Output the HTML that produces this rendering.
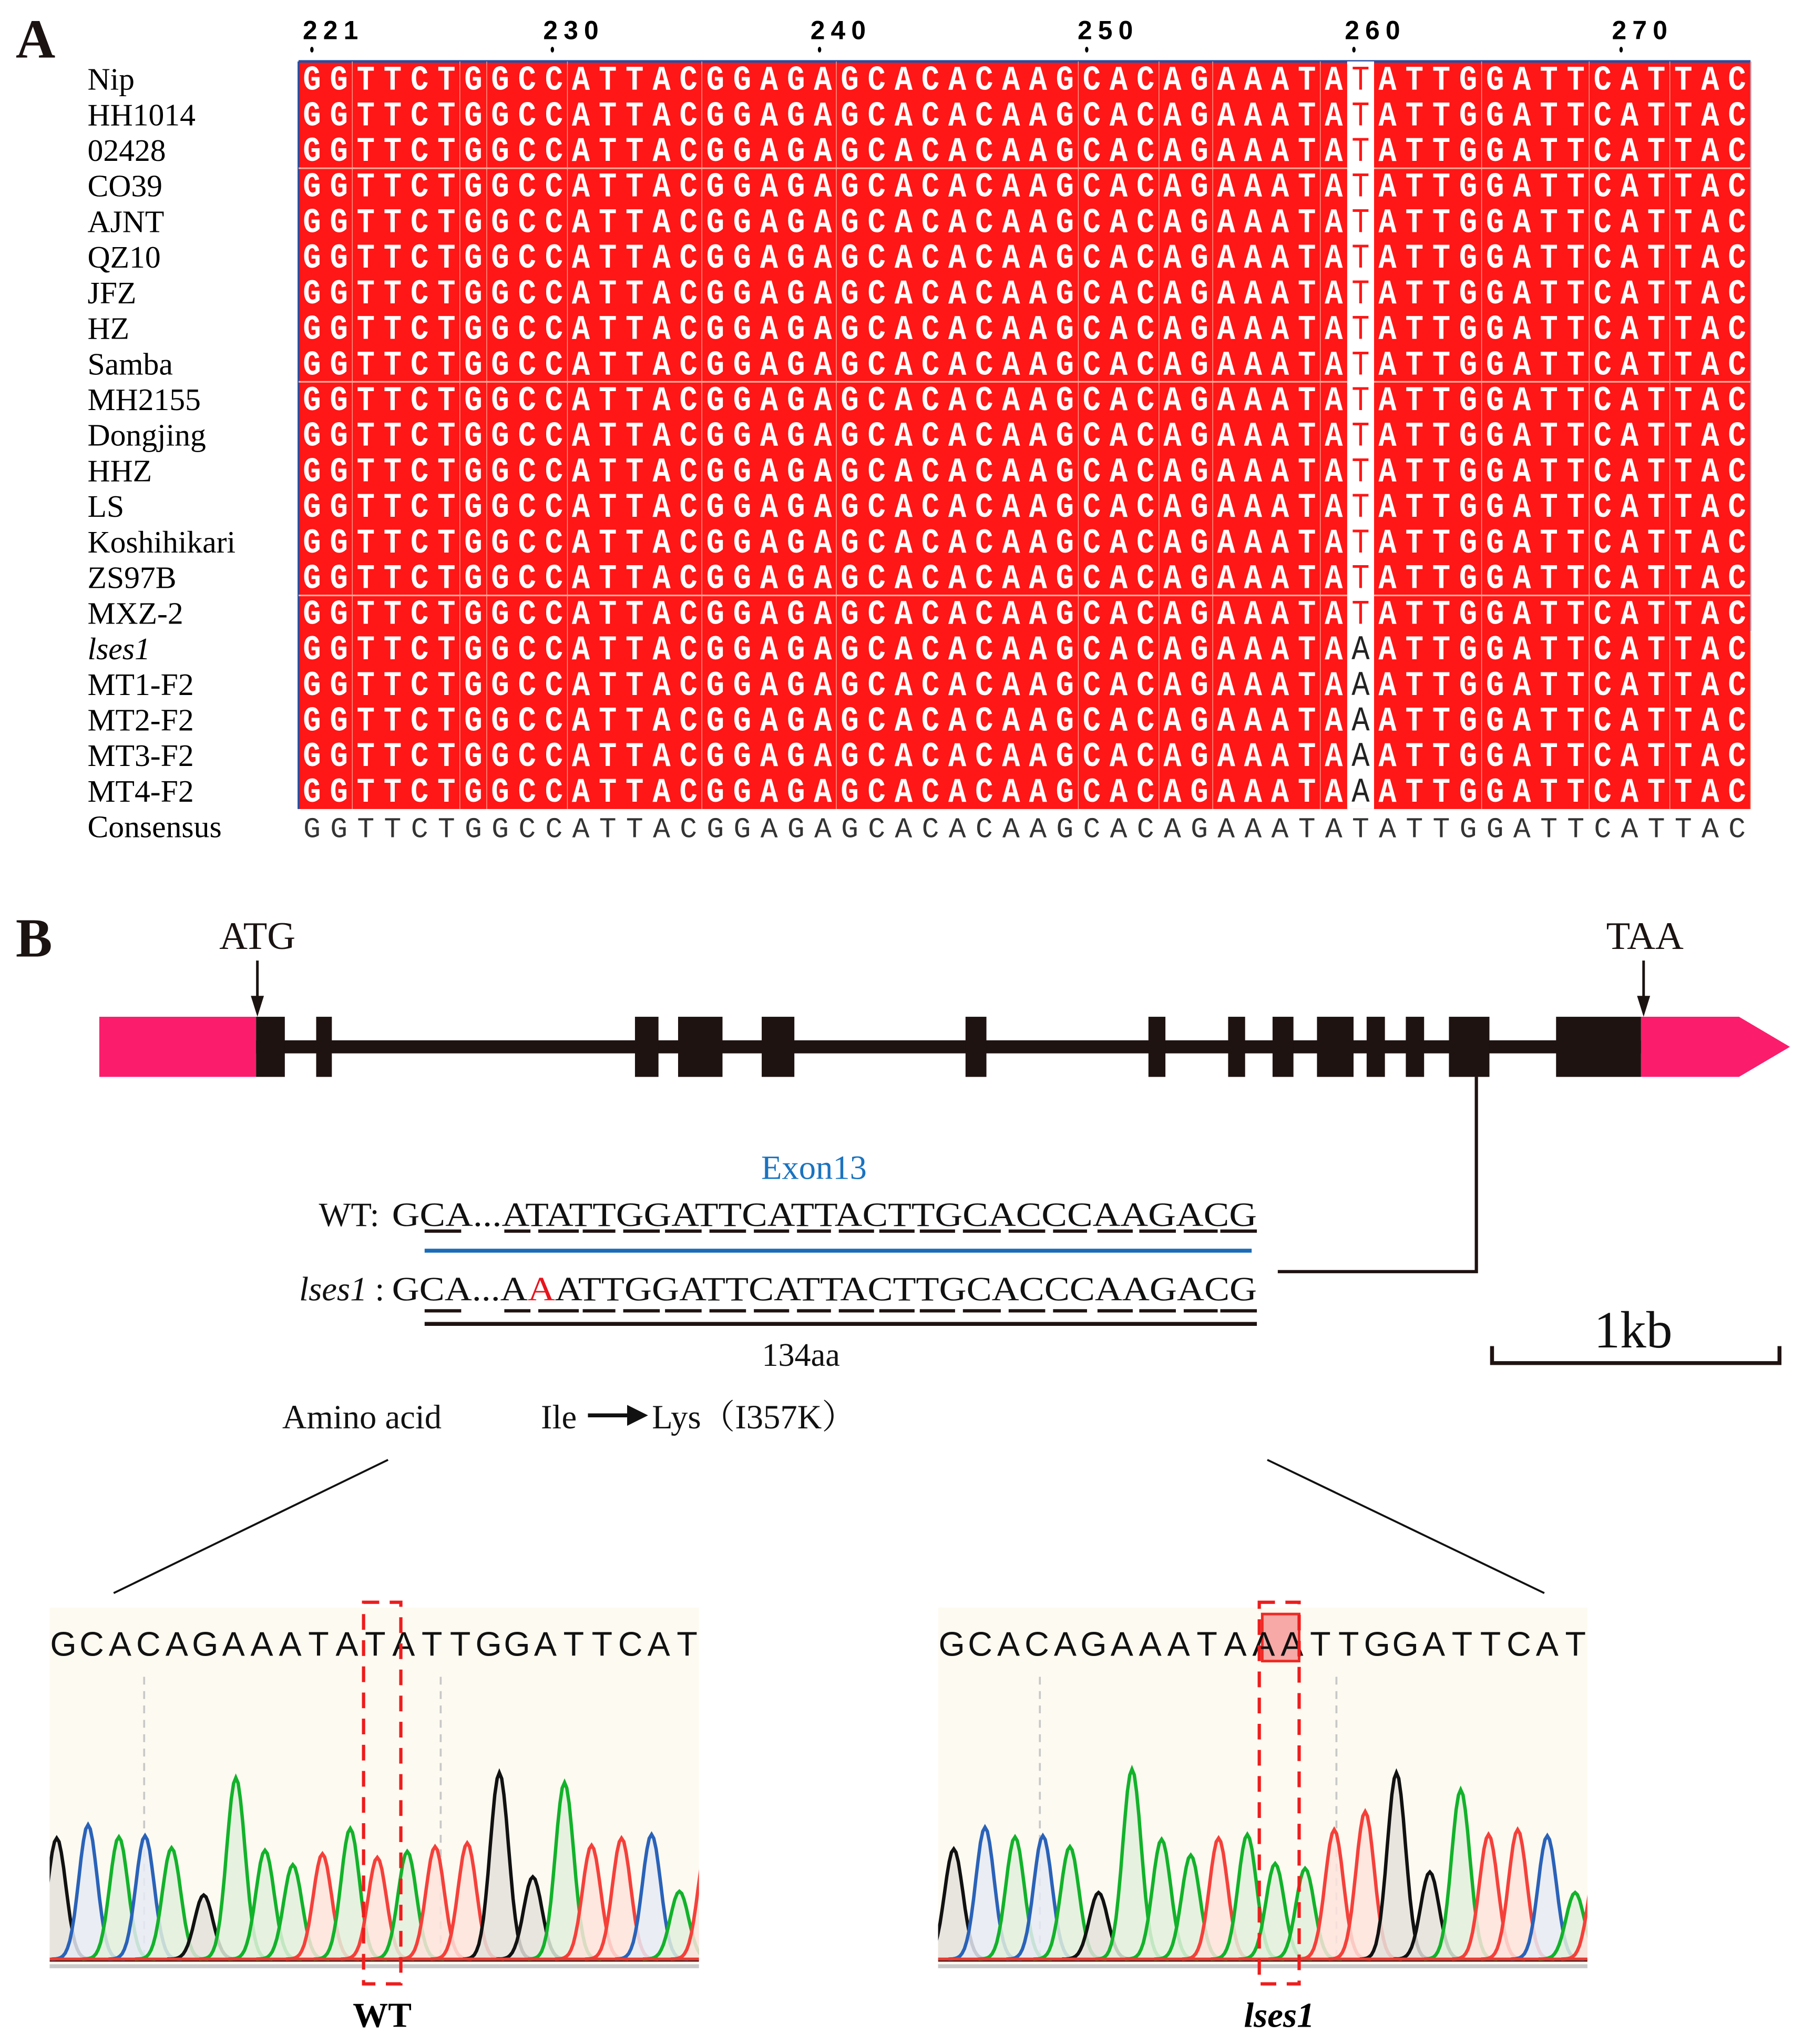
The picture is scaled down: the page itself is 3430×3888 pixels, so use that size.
<!DOCTYPE html>
<html><head><meta charset="utf-8"><style>
html,body{margin:0;padding:0;background:#fff;}
svg{display:block;}
</style></head><body>
<svg id="fig" width="3430" height="3888" viewBox="0 0 1380 1564" preserveAspectRatio="none" xmlns="http://www.w3.org/2000/svg">
<rect width="1380" height="1564" fill="#fff"/>
<g id="panelA"></g>
<g id="panelB"></g>
<g id="chromL"></g>
<g id="chromR"></g>
</svg>
<script>
// ---------- data ----------
const sampleNames = ["Nip","HH1014","02428","CO39","AJNT","QZ10","JFZ","HZ","Samba","MH2155","Dongjing","HHZ","LS","Koshihikari","ZS97B","MXZ-2","lses1","MT1-F2","MT2-F2","MT3-F2","MT4-F2"];
const wtSeq = "GGTTCTGGCCATTACGGAGAGCACACAAGCACAGAAATATATTGGATTCATTAC";
const snpBase = ["T","T","T","T","T","T","T","T","T","T","T","T","T","T","T","T","A","A","A","A","A"];
const rulerTicks = [221,230,240,250,260,270];
const exonStarts = [196,242,486,519,583,739,879,940,974,1008,1046,1076,1109,1191];
const exonEnds   = [218,254,504,553,608,755,892,953,990,1036,1060,1090,1140,1256];
const wtTraceSeq = "GCACAGAAATATATTGGATTCAT";
const mtTraceSeq = "GCACAGAAATAAATTGGATTCAT";
const wtScan   = [22,95,167,228,290,365,440,508,573,642,707,770,840,905,980,1055,1133,1207,1270,1340,1410,1475,1540];
const wtHeight = [500,555,505,510,460,265,750,450,390,435,540,420,445,465,480,770,340,730,470,500,515,280,480];
const wtBase   = ["K","B","G","B","G","K","G","G","G","R","G","R","G","R","R","K","K","G","R","R","B","G","R"];
const mtScan   = [42,115,185,250,313,380,458,527,595,660,727,792,862,930,1002,1075,1153,1225,1290,1358,1427,1492,1545];
const mtHeight = [455,545,505,510,465,275,785,495,430,500,515,395,375,535,610,770,360,700,515,535,510,275,420];
const mtBase   = ["K","B","G","B","G","K","G","G","G","R","G","G","G","R","R","K","K","G","R","R","B","G","R"];

const NS="http://www.w3.org/2000/svg";
function mk(parent,tag,attrs,text){const e=document.createElementNS(NS,tag);for(const k in attrs)e.setAttribute(k,attrs[k]);if(text!==undefined)e.textContent=text;parent.appendChild(e);return e;}
const serif='"Liberation Serif", serif', mono='"Liberation Mono", monospace', sans='"Liberation Sans", sans-serif';

// ---------- Panel A ----------
const A=document.getElementById('panelA');
let t=mk(A,'text',{x:12,y:44,'font-family':serif,'font-size':42,'font-weight':'bold',fill:'#1a1311'},'A');


const x0=228.5, cw=20.58, y0=47, rh=27.24;
const colX=i=>x0+i*cw;
const rowY=i=>y0+i*rh;
rulerTicks.forEach(n=>{
  const cx=x0+(n-221+0.5)*20.45;
  let g=mk(A,'g',{});
  
  
  mk(g,'text',{x:cx-7,y:30,'font-family':sans,'font-size':20,'font-weight':'bold','letter-spacing':4.5,fill:'#000'},String(n));
  mk(g,'ellipse',{cx:cx,cy:38,rx:1.3,ry:2.2,fill:'#000'});
});
const box=mk(A,'rect',{x:x0,y:y0,width:cw*wtSeq.length,height:rh*sampleNames.length,fill:'#ff1616'});


mk(A,'line',{x1:x0,y1:y0,x2:x0+cw*wtSeq.length,y2:y0,stroke:'#2a4ea0','stroke-width':2});
mk(A,'line',{x1:x0,y1:y0,x2:x0,y2:rowY(sampleNames.length),stroke:'#2a4ea0','stroke-width':1.5});
mk(A,'line',{x1:x0+cw*wtSeq.length,y1:y0,x2:x0+cw*wtSeq.length,y2:rowY(16),stroke:'#2a4ea0','stroke-width':1});
[2,6,7,10,15,20,29,32,34,38,44,48,51,54].forEach(i=>mk(A,'line',{x1:colX(i),y1:y0,x2:colX(i),y2:rowY(21),stroke:'#ff9a8a','stroke-width':0.6}));
[3,9,15].forEach(i=>mk(A,'line',{x1:x0,y1:rowY(i),x2:x0+cw*wtSeq.length,y2:rowY(i),stroke:'#ffb0a0','stroke-width':1.2}));
const snpIdx=39;
const wc=mk(A,'rect',{x:colX(snpIdx),y:y0,width:cw,height:rh*sampleNames.length,fill:'#fff'});


sampleNames.forEach((nm,r)=>{
  const cy=rowY(r)+rh/2;
  let lab=mk(A,'text',{x:67,y:cy+8,'font-family':serif,'font-size':24,fill:'#000','font-style':nm==='lses1'?'italic':'normal'},nm);
  
  
  let row=mk(A,'g',{'font-family':mono,'font-size':23,'font-weight':'bold','text-anchor':'middle'});
  
  
  for(let i=0;i<wtSeq.length;i++){
    let ch=wtSeq[i], fill='#fff', fw='bold';
    if(i===snpIdx){ch=snpBase[r];fill=ch==='T'?'#ff1616':'#222';fw='normal';}
    mk(row,'text',{x:colX(i)+cw/2,y:cy+8,fill:fill,'font-weight':fw,transform:`translate(${colX(i)+cw/2},${cy+8}) scale(1,1.15) translate(${-(colX(i)+cw/2)},${-(cy+8)})`},ch);
  }
});
const cy=rowY(21)+rh/2;
let cl=mk(A,'text',{x:67,y:cy+8,'font-family':serif,'font-size':24,fill:'#000'},'Consensus');


let crow=mk(A,'g',{'font-family':mono,'font-size':22,'text-anchor':'middle',fill:'#333'});


for(let i=0;i<wtSeq.length;i++)mk(crow,'text',{x:colX(i)+cw/2,y:cy+8},wtSeq[i]);

// ---------- Panel B ----------
const B=document.getElementById('panelB');
t=mk(B,'text',{x:12,y:732,'font-family':serif,'font-size':42,'font-weight':'bold',fill:'#1a1311'},'B');


t=mk(B,'text',{x:197,y:726,'font-family':serif,'font-size':30,'text-anchor':'middle',fill:'#1a1311'},'ATG');


t=mk(B,'text',{x:1259,y:726,'font-family':serif,'font-size':30,'text-anchor':'middle',fill:'#1a1311'},'TAA');


[197,1258].forEach(x=>{mk(B,'line',{x1:x,y1:735,x2:x,y2:768,stroke:'#1a1311','stroke-width':2});mk(B,'polygon',{points:`${x-5},762 ${x+5},762 ${x},778`,fill:'#1a1311'});});
let u5=mk(B,'rect',{x:76,y:778,width:120,height:46,fill:'#fc1c6c'});


let u3=mk(B,'polygon',{points:'1256,778 1331,778 1370,801 1331,824 1256,824',fill:'#fc1c6c'});


let intr=mk(B,'rect',{x:196,y:796,width:1060,height:10,fill:'#1f1311'});


exonStarts.forEach((s,i)=>{
  let e=mk(B,'rect',{x:s,y:778,width:exonEnds[i]-s,height:46,fill:'#1f1311'});
  
  
});
mk(B,'polyline',{points:'1130,824 1130,973 978,973',fill:'none',stroke:'#1f1311','stroke-width':2.5});
t=mk(B,'text',{x:623,y:902,'font-family':serif,'font-size':26,'text-anchor':'middle',fill:'#1a73c0'},'Exon13');


t=mk(B,'text',{x:244,y:938,'font-family':serif,'font-size':26,fill:'#111'},'WT:');


t=mk(B,'text',{x:300,y:938,'font-family':serif,'font-size':26,fill:'#111',textLength:662,lengthAdjust:'spacingAndGlyphs'},'GCA...ATATTGGATTCATTACTTGCACCCAAGACG');


t=mk(B,'text',{x:229,y:995,'font-family':serif,'font-size':26,fill:'#111','font-style':'italic'},'lses1');


mk(B,'text',{x:287,y:995,'font-family':serif,'font-size':26,fill:'#111'},':');
t=mk(B,'text',{x:300,y:995,'font-family':serif,'font-size':26,fill:'#111',textLength:662,lengthAdjust:'spacingAndGlyphs'});


mk(t,'tspan',{},'GCA...A');mk(t,'tspan',{fill:'#e8141c'},'A');mk(t,'tspan',{},'ATTGGATTCATTACTTGCACCCAAGACG');
[942,1003].forEach(y=>{
  const g=mk(B,'g',{});
  
  
  const s0=[[325,353],[386,406],[412,443],[446,471],[477,505],[509,537],[543,571],[577,604],[610,636],[642,669],[673,700],[704,731],[737,766],[772,800],[806,832],[840,867],[872,900],[906,932],[934,962]];
  s0.forEach(s=>mk(g,'line',{x1:s[0],y1:y,x2:s[1],y2:y,stroke:'#1f1311','stroke-width':2.5}));
});
let bl=mk(B,'line',{x1:325,y1:957,x2:958,y2:957,stroke:'#1a6bb8','stroke-width':3});


bl=mk(B,'line',{x1:325,y1:1013,x2:962,y2:1013,stroke:'#1f1311','stroke-width':3});


t=mk(B,'text',{x:613,y:1045,'font-family':serif,'font-size':25,'text-anchor':'middle',fill:'#111'},'134aa');


t=mk(B,'text',{x:1250,y:1031,'font-family':serif,'font-size':40,'text-anchor':'middle',fill:'#111'},'1kb');


let sb=mk(B,'polyline',{points:'1142,1030 1142,1043 1362,1043 1362,1030',fill:'none',stroke:'#1f1311','stroke-width':3});


t=mk(B,'text',{x:216,y:1093,'font-family':serif,'font-size':26,fill:'#111'},'Amino acid');


t=mk(B,'text',{x:414,y:1093,'font-family':serif,'font-size':26,fill:'#111'},'Ile');


mk(B,'line',{x1:450,y1:1083,x2:484,y2:1083,stroke:'#111','stroke-width':3});
mk(B,'polygon',{points:'480,1075 496,1083 480,1091',fill:'#111'});
t=mk(B,'text',{x:499,y:1093,'font-family':'"Liberation Serif","Noto Serif CJK SC",serif','font-size':26,fill:'#111'},'Lys（I357K）');


mk(B,'line',{x1:297,y1:1117,x2:87,y2:1219,stroke:'#111','stroke-width':1.5});
mk(B,'line',{x1:970,y1:1117,x2:1182,y2:1219,stroke:'#111','stroke-width':1.5});

// ---------- Chromatograms ----------
const colors={K:['#111','#e4e1dc'],B:['#2a62b8','#e6eaf4'],G:['#12b22a','#e2f0dc'],R:['#f5403a','#fde3dc']};
function chrom(gid,ox,seq,scan,height,base,boxZx,hl,grayZx,label,italic){
  const g=document.getElementById(gid);
  const W=497, sx=z=>ox-1.8+z*0.328, baseY=1499, hs=0.185;
  mk(g,'rect',{x:ox,y:1230,width:W,height:273,fill:'#fdfaf1'});
  const clip='clip'+gid;
  const cp=mk(g,'clipPath',{id:clip});mk(cp,'rect',{x:ox,y:1230,width:W,height:275});
  const inner=mk(g,'g',{'clip-path':`url(#${clip})`});
  grayZx.forEach(z=>mk(inner,'line',{x1:sx(z),y1:1283,x2:sx(z),y2:1500,stroke:'#c8c8c8','stroke-width':1.5,'stroke-dasharray':'6,5'}));
  if(hl){let h=mk(inner,'rect',{x:sx(hl[0]),y:1235,width:sx(hl[1])-sx(hl[0]),height:36,fill:'#f6a9a6',stroke:'#ee2a24','stroke-width':2});
    
    }
  const tx=mk(inner,'g',{'font-family':sans,'font-size':26,fill:'#111','text-anchor':'middle'});
  
  
  for(let i=0;i<seq.length;i++)mk(tx,'text',{x:ox+10.5+i*21.7,y:1267},seq[i]);
  mk(inner,'line',{x1:ox,y1:baseY+1,x2:ox+W,y2:baseY+1,stroke:'#222','stroke-width':2});
  const sig=7;
  scan.forEach((z,i)=>{
    const cx=sx(z), h=height[i]*hs, c=colors[base[i]];
    let d=`M${(cx-4*sig).toFixed(1)},${baseY}`;
    for(let k=-4;k<=4.001;k+=0.25){const x=cx+k*sig;d+=` L${x.toFixed(1)},${(baseY-h*Math.exp(-k*k/2)).toFixed(1)}`;}
    let p=mk(inner,'path',{d:d+' Z',fill:c[1],'fill-opacity':0.85,stroke:'none'});
    
    
    let l=mk(inner,'path',{d:d,fill:'none',stroke:c[0],'stroke-width':2.6});
    
    
  });
  mk(inner,'line',{x1:ox,y1:baseY,x2:ox+W,y2:baseY,stroke:'#ee3a30','stroke-width':2.2});
  mk(g,'rect',{x:ox,y:1503,width:W,height:3,fill:'#c9c9c9'});
  let db=mk(g,'rect',{x:sx(boxZx[0]),y:1226,width:sx(boxZx[1])-sx(boxZx[0]),height:292,fill:'none',stroke:'#ee1c1c','stroke-width':2.5,'stroke-dasharray':'12,8'});
  
  
  let lb=mk(g,'text',{x:(sx(boxZx[0])+sx(boxZx[1]))/2,y:1551,'font-family':serif,'font-size':27,'font-weight':'bold','font-style':italic?'italic':'normal','text-anchor':'middle',fill:'#000'},label);
  
  
}
chrom('chromL',38,wtTraceSeq,wtScan,wtHeight,wtBase,[738,825],null,[226,918],'WT',false);
chrom('chromR',718,mtTraceSeq,mtScan,mtHeight,mtBase,[755,848],[762,848],[243,935],'lses1',true);
</script>
</body></html>
